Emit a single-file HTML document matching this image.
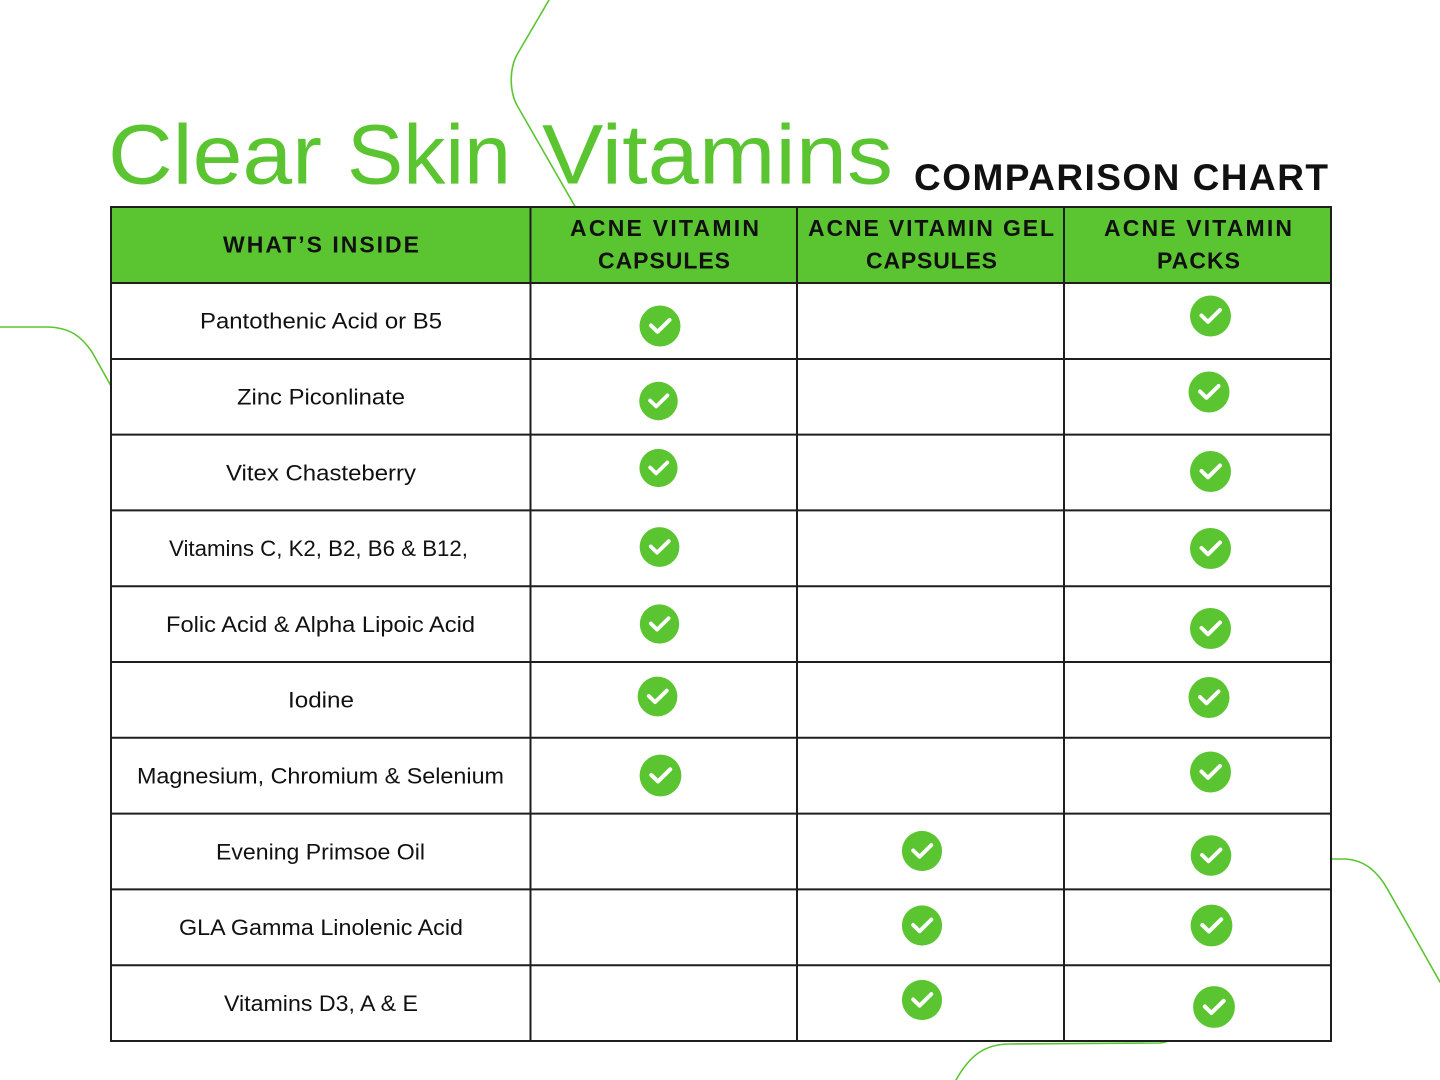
<!DOCTYPE html>
<html>
<head>
<meta charset="utf-8">
<style>
  html, body { margin: 0; padding: 0; background: #ffffff; }
  svg { display: block; }
  .title { font-family: "Liberation Sans", sans-serif; fill: #5bc531; font-size: 84px; }
  .sub { font-family: "Liberation Sans", sans-serif; font-weight: bold; fill: #111; font-size: 37px; }
  .hd { font-family: "Liberation Sans", sans-serif; font-weight: bold; fill: #111; font-size: 23px; }
  .bd { font-family: "Liberation Sans", sans-serif; fill: #111; font-size: 22px; }
</style>
</head>
<body>
<svg width="1440" height="1080" viewBox="0 0 1440 1080" xmlns="http://www.w3.org/2000/svg">
  <rect x="0" y="0" width="1440" height="1080" fill="#ffffff"/>

  <!-- decorative lines -->
  <g fill="none" stroke="#5bc531" stroke-width="1.6" stroke-linecap="round">
    <path d="M549,0 L518,53 C509,68 509,92 518,107 L600,250"/>
    <path d="M0,327 L46,327 C70,327 82,337 92,352 L130,420"/>
    <path d="M1300,859 L1345,859 C1365,860 1378,872 1388,890 L1440,982"/>
    <path d="M956,1080 C970,1055 985,1044 1010,1044 L1160,1043 C1170,1042 1175,1038 1180,1030"/>
  </g>

  <!-- title -->
  <text class="title" x="108" y="183.5" textLength="214" lengthAdjust="spacingAndGlyphs">Clear</text>
  <text class="title" x="347" y="183.5" textLength="164" lengthAdjust="spacingAndGlyphs">Skin</text>
  <text class="title" x="542" y="183.5" textLength="351" lengthAdjust="spacingAndGlyphs">Vitamins</text>
  <text class="sub" x="914" y="190" textLength="414" lengthAdjust="spacing">COMPARISON CHART</text>

  <!-- table -->
  <rect x="111" y="207" width="1220" height="834" fill="#ffffff"/>
  <rect x="111" y="207" width="1220" height="76" fill="#5bc531"/>
  <g stroke="#1e1e1e" stroke-width="2" fill="none">
    <rect x="111" y="207" width="1220" height="834"/>
    <line x1="111" y1="283" x2="1331" y2="283"/>
    <line x1="111" y1="359" x2="1331" y2="359"/>
    <line x1="111" y1="434.6" x2="1331" y2="434.6"/>
    <line x1="111" y1="510.4" x2="1331" y2="510.4"/>
    <line x1="111" y1="586.2" x2="1331" y2="586.2"/>
    <line x1="111" y1="662" x2="1331" y2="662"/>
    <line x1="111" y1="737.8" x2="1331" y2="737.8"/>
    <line x1="111" y1="813.6" x2="1331" y2="813.6"/>
    <line x1="111" y1="889.4" x2="1331" y2="889.4"/>
    <line x1="111" y1="965.2" x2="1331" y2="965.2"/>
    <line x1="530.5" y1="207" x2="530.5" y2="1041"/>
    <line x1="797" y1="207" x2="797" y2="1041"/>
    <line x1="1064" y1="207" x2="1064" y2="1041"/>
  </g>

  <!-- header text -->
  <text class="hd" x="223" y="252.5" textLength="196" lengthAdjust="spacing">WHAT’S INSIDE</text>
  <text class="hd" x="570" y="236" textLength="189" lengthAdjust="spacing">ACNE VITAMIN</text>
  <text class="hd" x="598" y="268.5" textLength="132" lengthAdjust="spacing">CAPSULES</text>
  <text class="hd" x="808" y="236" textLength="246" lengthAdjust="spacing">ACNE VITAMIN GEL</text>
  <text class="hd" x="866" y="268.5" textLength="131" lengthAdjust="spacing">CAPSULES</text>
  <text class="hd" x="1104" y="236" textLength="188" lengthAdjust="spacing">ACNE VITAMIN</text>
  <text class="hd" x="1157" y="268.5" textLength="83" lengthAdjust="spacing">PACKS</text>

  <!-- body text -->
  <text class="bd" x="200" y="328.5" textLength="242" lengthAdjust="spacingAndGlyphs">Pantothenic Acid or B5</text>
  <text class="bd" x="237" y="404.5" textLength="168" lengthAdjust="spacingAndGlyphs">Zinc Piconlinate</text>
  <text class="bd" x="226" y="480.5" textLength="190" lengthAdjust="spacingAndGlyphs">Vitex Chasteberry</text>
  <text class="bd" x="169" y="556" textLength="299" lengthAdjust="spacingAndGlyphs">Vitamins C, K2, B2, B6 &amp; B12,</text>
  <text class="bd" x="166" y="632" textLength="309" lengthAdjust="spacingAndGlyphs">Folic Acid &amp; Alpha Lipoic Acid</text>
  <text class="bd" x="288" y="707.5" textLength="66" lengthAdjust="spacingAndGlyphs">Iodine</text>
  <text class="bd" x="137" y="783.5" textLength="367" lengthAdjust="spacingAndGlyphs">Magnesium, Chromium &amp; Selenium</text>
  <text class="bd" x="216" y="859.5" textLength="209" lengthAdjust="spacingAndGlyphs">Evening Primsoe Oil</text>
  <text class="bd" x="179" y="935" textLength="284" lengthAdjust="spacingAndGlyphs">GLA Gamma Linolenic Acid</text>
  <text class="bd" x="224" y="1011" textLength="194" lengthAdjust="spacingAndGlyphs">Vitamins D3, A &amp; E</text>

  <!-- check marks -->
  <defs>
    <g id="chk">
      <circle cx="0" cy="0" r="20.5" fill="#5bc531"/>
      <polyline points="-9,-0.5 -2.5,5.8 9.5,-6" fill="none" stroke="#ffffff" stroke-width="4" stroke-linecap="round" stroke-linejoin="round"/>
    </g>
  </defs>
  <!-- col 2 -->
  <use href="#chk" transform="translate(660,326)"/>
  <use href="#chk" transform="translate(658.5,401) scale(0.94)"/>
  <use href="#chk" transform="translate(658.5,468) scale(0.93)"/>
  <use href="#chk" transform="translate(659.5,547) scale(0.97)"/>
  <use href="#chk" transform="translate(659.5,624) scale(0.96)"/>
  <use href="#chk" transform="translate(657.5,696.5) scale(0.97)"/>
  <use href="#chk" transform="translate(660.5,775.5) scale(1.02)"/>
  <!-- col 3 -->
  <use href="#chk" transform="translate(922,851) scale(0.98)"/>
  <use href="#chk" transform="translate(922,925.5) scale(0.98)"/>
  <use href="#chk" transform="translate(922,1000) scale(0.98)"/>
  <!-- col 4 -->
  <use href="#chk" transform="translate(1210.5,316)"/>
  <use href="#chk" transform="translate(1209,392)"/>
  <use href="#chk" transform="translate(1210.5,471.5)"/>
  <use href="#chk" transform="translate(1210.5,548.5)"/>
  <use href="#chk" transform="translate(1210.5,628.5)"/>
  <use href="#chk" transform="translate(1209,697.5)"/>
  <use href="#chk" transform="translate(1210.5,772)"/>
  <use href="#chk" transform="translate(1211,855.5) scale(0.99)"/>
  <use href="#chk" transform="translate(1211.5,925.5) scale(1.02)"/>
  <use href="#chk" transform="translate(1214,1007) scale(1.02)"/>
</svg>
</body>
</html>
